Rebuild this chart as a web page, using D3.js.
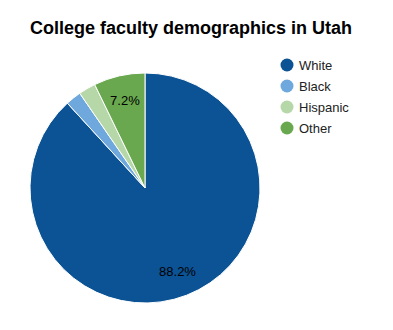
<!DOCTYPE html>
<html>
<head>
<meta charset="utf-8">
<script src="https://cdn.jsdelivr.net/npm/d3@7"></script>
<style>
  html, body { margin: 0; padding: 0; background: #fff; }
  svg { display: block; font-family: "Liberation Sans", Arial, sans-serif; }
</style>
</head>
<body>
<svg id="chart" width="393" height="330"></svg>
<script>
const categories = ["White", "Black", "Hispanic", "Other"];
const values = [88.2, 2.2, 2.4, 7.2];
const colors = ["#0b5394", "#6fa8dc", "#b6d7a8", "#6aa84f"];

const svg = d3.select("#chart");

svg.append("text")
  .attr("x", 30).attr("y", 34)
  .attr("font-size", 18).attr("font-weight", "bold")
  .attr("fill", "#000")
  .text("College faculty demographics in Utah");

const cx = 145, cy = 188, r = 115;
const data = categories.map((c, i) => ({ name: c, value: values[i], color: colors[i] }));

const pie = d3.pie().value(d => d.value).sort(null);
const arc = d3.arc().innerRadius(0).outerRadius(r);
const labelArc = d3.arc().innerRadius(r * 0.78).outerRadius(r * 0.78);
const total = d3.sum(values);

const g = svg.append("g").attr("transform", `translate(${cx},${cy})`);
const arcs = pie(data);

g.selectAll("path").data(arcs).join("path")
  .attr("d", arc)
  .attr("fill", d => d.data.color)
  .attr("stroke", "#fff").attr("stroke-width", 1);

g.selectAll("text.lbl").data(arcs.filter(d => d.data.value / total > 0.05)).join("text")
  .attr("class", "lbl")
  .attr("transform", d => `translate(${labelArc.centroid(d)})`)
  .attr("text-anchor", "middle").attr("dy", "0.35em")
  .attr("font-size", 13).attr("fill", "#000")
  .text(d => d.data.value.toFixed(1) + "%");

const legend = svg.append("g").attr("transform", "translate(287,65)");
const item = legend.selectAll("g").data(data).join("g")
  .attr("transform", (d, i) => `translate(0,${i * 21})`);
item.append("circle").attr("r", 6.5).attr("fill", d => d.color);
item.append("text").attr("x", 12).attr("dy", "0.35em")
  .attr("font-size", 13).attr("fill", "#222")
  .text(d => d.name);
</script>
</body>
</html>
